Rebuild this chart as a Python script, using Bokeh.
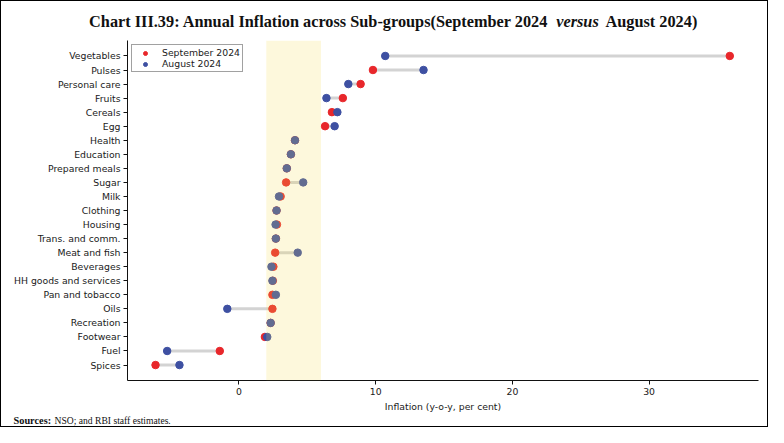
from bokeh.plotting import figure
from bokeh.models import Range1d, FixedTicker, Label, BoxAnnotation, ColumnDataSource
from bokeh.layouts import column
from bokeh.embed import file_html
from bokeh.resources import INLINE

categories = ["Vegetables", "Pulses", "Personal care", "Fruits", "Cereals", "Egg",
              "Health", "Education", "Prepared meals", "Sugar", "Milk", "Clothing",
              "Housing", "Trans. and comm.", "Meat and fish", "Beverages",
              "HH goods and services", "Pan and tobacco", "Oils", "Recreation",
              "Footwear", "Fuel", "Spices"]
sep_2024 = [35.9, 9.8, 8.9, 7.6, 6.8, 6.3, 4.1, 3.8, 3.5, 3.45, 3.05, 2.75, 2.78,
            2.7, 2.65, 2.52, 2.48, 2.45, 2.45, 2.32, 1.9, -1.4, -6.1]
aug_2024 = [10.7, 13.5, 8.0, 6.4, 7.2, 7.0, 4.1, 3.8, 3.5, 4.7, 2.93, 2.75, 2.68,
            2.7, 4.3, 2.38, 2.45, 2.7, -0.85, 2.32, 2.07, -5.25, -4.35]
x_ticks = [0, 10, 20, 30]
target_band = [2, 6]

W = 766
serif = "Liberation Serif"
sans = "DejaVu Sans"
fs = "9.3px"


def text_fig(h):
    f = figure(width=W, height=h, output_backend="svg", toolbar_location=None,
               x_range=Range1d(0, W), y_range=Range1d(0, h),
               x_axis_location=None, y_axis_location=None,
               min_border_left=0, min_border_right=0, min_border_top=0,
               min_border_bottom=0)
    if "frame_align" in f.properties():
        f.frame_align = False
    f.xgrid.visible = False
    f.ygrid.visible = False
    f.outline_line_color = None
    return f


# ---- title ----
tfig = text_fig(31)
title_parts = [
    ("Chart III.39: Annual Inflation across Sub-groups(September 2024", "bold", 547, "right", "16.3px"),
    ("versus", "bold italic", 576, "center", "16.3px"),
    ("August 2024)", "bold", 604, "left", "16.3px"),
]
for txt, style, x, align, size in title_parts:
    tfig.add_layout(Label(x=x, y=11, text=txt, text_font=serif, text_font_style=style,
                          text_font_size=size, text_align=align,
                          text_baseline="middle", text_color="#111111"))

# ---- main chart ----
n = len(categories)
ypos = [n - 1 - i for i in range(n)]
src = ColumnDataSource(dict(y=ypos, sep=sep_2024, aug=aug_2024, cat=categories))

p = figure(width=W, height=382, output_backend="svg", toolbar_location=None,
           x_range=Range1d(-8.15, 38.0), y_range=Range1d(-1.1, n - 1 + 1.1),
           min_border_left=126, min_border_right=9, min_border_top=8,
           min_border_bottom=30)
p.outline_line_color = None
p.xgrid.visible = False
p.ygrid.visible = False

p.segment(x0="aug", x1="sep", y0="y", y1="y", source=src,
          line_color="#d3d3d3", line_width=3)
p.scatter(x="sep", y="y", source=src, size=7.5, fill_color="#e8272b",
          line_color="#e8272b", legend_label="September 2024")
p.scatter(x="aug", y="y", source=src, size=7.5, fill_color="#3e50a2",
          line_color="#3e50a2", legend_label="August 2024")

band = BoxAnnotation(left=target_band[0], right=target_band[1],
                     fill_color="#f5dc50", fill_alpha=0.2, line_alpha=0)
p.add_layout(band)

p.yaxis.ticker = FixedTicker(ticks=ypos)
p.yaxis.major_label_overrides = {y: c for y, c in zip(ypos, categories)}
p.xaxis.ticker = FixedTicker(ticks=x_ticks)
for ax in (p.xaxis, p.yaxis):
    ax.major_label_text_font = sans
    ax.major_label_text_font_size = fs
    ax.major_label_text_color = "#1a1a1a"
    ax.major_tick_in = 0
    ax.major_tick_out = 4
    ax.minor_tick_line_color = None
    ax.axis_line_color = "#111111"
    ax.major_tick_line_color = "#111111"
p.yaxis.major_label_standoff = 3
p.xaxis.major_label_standoff = 3
p.xaxis.axis_label = "Inflation (y-o-y, per cent)"
p.xaxis.axis_label_text_font = sans
p.xaxis.axis_label_text_font_size = fs
p.xaxis.axis_label_text_font_style = "normal"
p.xaxis.axis_label_text_color = "#1a1a1a"
p.xaxis.axis_label_standoff = 3

lg = p.legend[0]
lg.location = "top_left"
lg.margin = 4
lg.padding = 2
lg.spacing = 0
lg.glyph_width = 22
lg.glyph_height = 10
lg.label_height = 10
lg.label_standoff = 6
lg.label_text_font = sans
lg.label_text_font_size = fs
lg.label_text_color = "#1a1a1a"
lg.border_line_color = "#444444"
lg.border_line_width = 1

# ---- sources ----
sfig = text_fig(12)
sfig.add_layout(Label(x=12, y=6, text="Sources:", text_font=serif,
                      text_font_style="bold", text_font_size="10.3px",
                      text_align="left", text_baseline="middle", text_color="#111111"))
sfig.add_layout(Label(x=53, y=6, text="NSO; and RBI staff estimates.", text_font=serif,
                      text_font_size="9.6px", text_align="left",
                      text_baseline="middle", text_color="#111111"))

layout = column(tfig, p, sfig, spacing=0)
layout.styles = {"border": "1px solid black"}

open("out.html", "w").write(file_html(layout, INLINE))
